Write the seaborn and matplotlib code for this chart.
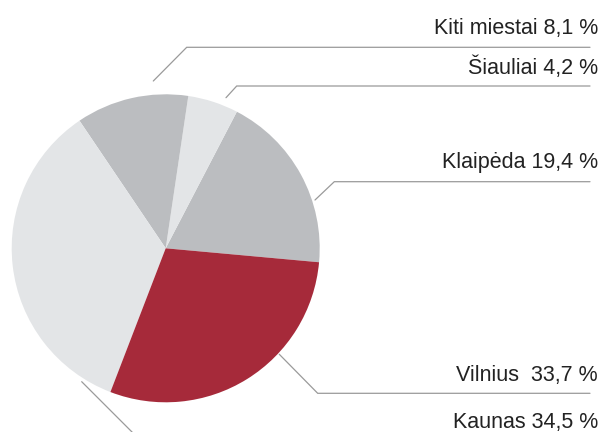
import matplotlib
matplotlib.use("Agg")
import matplotlib.pyplot as plt
import seaborn as sns

cities = ["Klaipėda", "Šiauliai", "Kiti miestai", "Kaunas", "Vilnius"]
shares = [18.8, 5.3, 11.8, 34.7, 29.4]
label_texts = ["Klaipėda 19,4 %", "Šiauliai 4,2 %", "Kiti miestai 8,1 %",
               "Kaunas 34,5 %", "Vilnius  33,7 %"]

sns.set_theme(style="white")
plt.rcParams['font.family'] = ['Liberation Sans', 'DejaVu Sans']

colors = ["#bbbdc0", "#e3e5e7", "#bbbdc0", "#e3e5e7", "#a62a3a"]

W, H = 604, 432
fig = plt.figure(figsize=(W / 100, H / 100), dpi=100)
ax = fig.add_axes([0, 0, 1, 1])

cx, cy, r = 165.7, H - 248.3, 154.0
ax.pie(shares, colors=colors, center=(cx, cy), radius=r, startangle=-5.2,
       counterclock=True, wedgeprops=dict(linewidth=0), frame=True)

ax.set_xlim(0, W)
ax.set_ylim(0, H)
ax.set_aspect('equal')
ax.axis('off')

line_col = "#9a9a9a"
# leader lines: (start x, start y, elbow x, elbow y) in image pixel coords
leaders = {
    "Kiti miestai": (153.3, 81.0, 186.7, 47.3),
    "Šiauliai": (226.0, 97.7, 236.7, 86.0),
    "Klaipėda": (315.0, 200.0, 334.3, 181.7),
    "Vilnius": (279.3, 354.3, 317.7, 393.3),
    "Kaunas": (81.7, 381.7, 133.0, 433.0),
}
baselines = {
    "Kiti miestai": 34.0,
    "Šiauliai": 74.0,
    "Klaipėda": 168.0,
    "Vilnius": 381.5,
    "Kaunas": 428.0,
}
for city, txt in zip(cities, label_texts):
    x0, y0, x1, y1 = leaders[city]
    ax.plot([x0, x1, 590], [H - y0, H - y1, H - y1], color=line_col, lw=0.9,
            solid_joinstyle='miter')
    ax.text(598, H - baselines[city], txt, ha='right', va='baseline',
            fontsize=15.5, color="#222222")

fig.savefig("out.png", dpi=100)
